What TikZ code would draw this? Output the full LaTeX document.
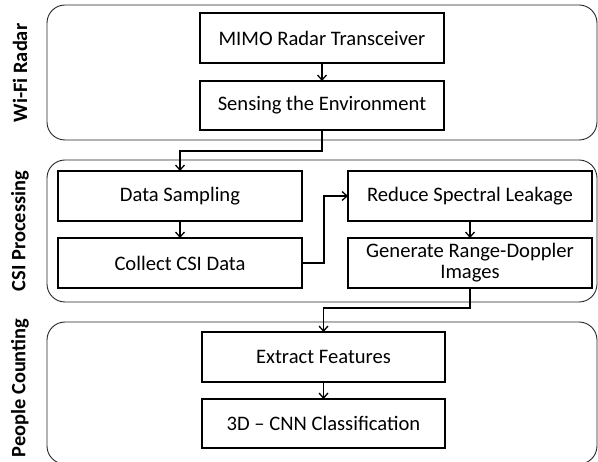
\documentclass[tikz,border=0pt]{standalone}
\usepackage{fontspec}
\setmainfont{Carlito}
\usetikzlibrary{arrows.meta}
\tikzset{
  grp/.style={draw=black!85, line width=0.9pt, rounded corners=18pt},
  stepbox/.style={draw, line width=1.6pt, minimum width=244pt, minimum height=50pt, inner sep=0pt, outer sep=0pt, align=center, font=\fontsize{20.6}{21}\selectfont},
  lab/.style={rotate=90, font=\fontsize{20.4}{21}\selectfont\bfseries},
  conn/.style={line width=1.3pt, -{Straight Barb[length=5pt,width=9pt,line width=1.3pt]}}
}
\begin{document}
\begin{tikzpicture}[x=1pt,y=-1pt]
\useasboundingbox (0,0) rectangle (598,462);
\draw[grp] (47,5) rectangle (597,140);
\draw[grp] (47,160) rectangle (597,302);
\draw[grp] (47,322) rectangle (597,464);
\node[lab] (l1) at (20,73) {Wi-Fi Radar};
\node[lab] (l2) at (20,231) {CSI Processing};
\node[lab] (l3) at (20,388) {People Counting};
\node[stepbox] (mimo) at (322,38) {MIMO Radar Transceiver};
\node[stepbox, minimum height=49pt] (sense) at (322,105.5) {Sensing the Environment};
\node[stepbox] (samp) at (180,196) {Data Sampling};
\node[stepbox] (coll) at (180,263) {Collect CSI Data};
\node[stepbox] (red) at (470,196) {Reduce Spectral Leakage};
\node[stepbox] (gen) at (470,263) {Generate Range-Doppler\\Images};
\node[stepbox, minimum width=243pt] (ext) at (323.5,357) {Extract Features};
\node[stepbox, minimum width=243pt, minimum height=49pt] (cnn) at (323.5,423.5) {3D – CNN Classification};
\coordinate (c1) at (322,151);
\coordinate (c2) at (180,151);
\coordinate (c3) at (324,263);
\coordinate (c4) at (324,196);
\coordinate (c5) at (470,308);
\coordinate (c6) at (323.5,308);
\draw[conn] (mimo) -- (sense);
\draw[conn] (sense.south) -- (c1) -- (c2) -- (samp.north);
\draw[conn] (samp) -- (coll);
\draw[conn] (coll.east) -- (c3) -- (c4) -- (red.west);
\draw[conn] (red) -- (gen);
\draw[conn] (gen.south) -- (c5) -- (c6) -- (ext.north);
\draw[conn] (ext) -- (cnn);
\end{tikzpicture}
\end{document}
